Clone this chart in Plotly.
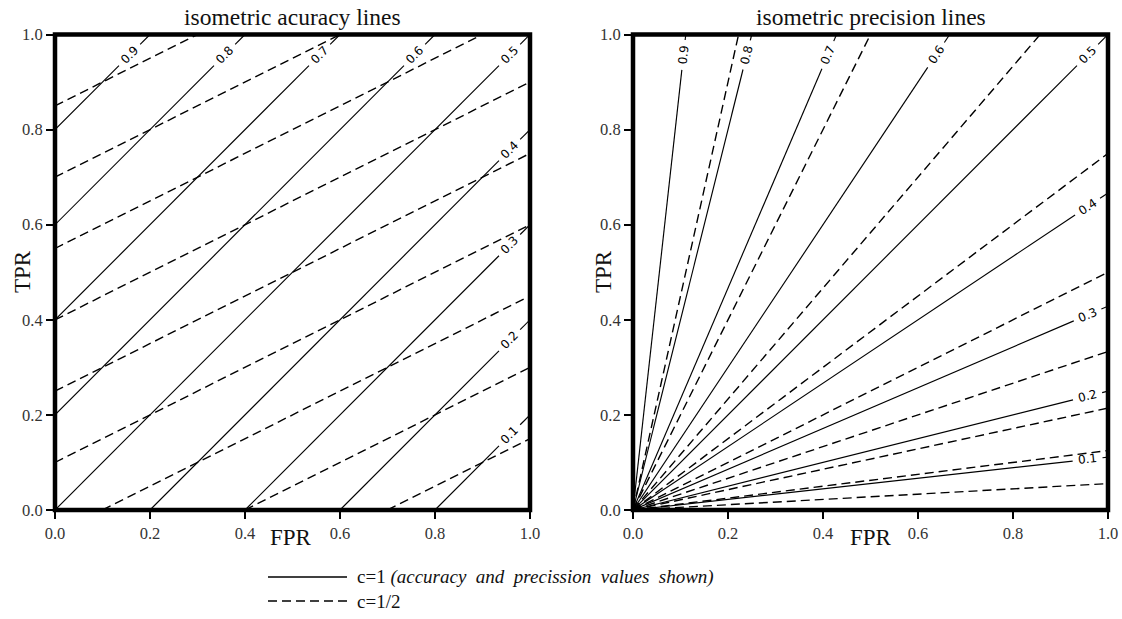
import numpy as np
import plotly.graph_objects as go

# Iso-lines drawn in ROC space (FPR on x, TPR on y)
ACC_LEVELS = [0.1, 0.2, 0.3, 0.4, 0.5, 0.6, 0.7, 0.8, 0.9]
PREC_LEVELS = [0.1, 0.2, 0.3, 0.4, 0.5, 0.6, 0.7, 0.8, 0.9]
CLASS_RATIOS = [1.0, 0.5]          # c = negatives / positives
LABELLED_RATIO = 1.0               # only the c=1 lines carry value labels
TICKS = [0.0, 0.2, 0.4, 0.6, 0.8, 1.0]
TICK_TEXT = ["0.0", "0.2", "0.4", "0.6", "0.8", "1.0"]

W, H = 1122, 619
SERIF = "Liberation Serif"
PLOT_PX = 475.0                    # side of each square plot in pixels
LABEL_POS = 0.957                  # where a label sits along the exit axis
HALF_GAP = 15.0 / PLOT_PX          # half of the break around a label


def px(x):
    """pixel column -> paper fraction"""
    return x / W


def py(y):
    """pixel row -> paper fraction"""
    return 1 - y / H


def acc_line(a, c):
    # accuracy = (TPR + c (1 - FPR)) / (1 + c)
    return c, (1 + c) * a - c


def prec_line(p, c):
    # precision = TPR / (TPR + c FPR)
    return c * p / (1 - p), 0.0


def clip_unit(m, b):
    x0, y0 = (0.0, b) if b >= 0 else (-b / m, 0.0)
    if m + b <= 1:
        x1, y1 = 1.0, m + b
    else:
        x1, y1 = (1 - b) / m, 1.0
    return (x0, y0), (x1, y1)


def line_geometry(m, b, labelled):
    (x0, y0), (x1, y1) = clip_unit(m, b)
    if not labelled:
        return [x0, x1], [y0, y1], None
    if y1 >= 1.0 - 1e-9 and x1 < 1.0 - 1e-9:
        ly = LABEL_POS
        lx = (ly - b) / m
    else:
        lx = LABEL_POS
        ly = m * lx + b
    n = np.hypot(1.0, m)
    ux, uy = 1.0 / n, m / n
    xs = [x0, lx - HALF_GAP * ux]
    ys = [y0, ly - HALF_GAP * uy]
    ex, ey = lx + HALF_GAP * ux, ly + HALF_GAP * uy
    if ex < x1 and ey < y1:
        xs += [None, ex, x1]
        ys += [None, ey, y1]
    return xs, ys, (lx, ly, np.degrees(np.arctan(m)))


fig = go.Figure()
annotations = []

panels = [
    ("x", "y", ACC_LEVELS, acc_line),
    ("x2", "y2", PREC_LEVELS, prec_line),
]

for xa, ya, levels, fn in panels:
    for c in CLASS_RATIOS:
        labelled = c == LABELLED_RATIO
        for lev in levels:
            m, b = fn(lev, c)
            xs, ys, lab = line_geometry(m, b, labelled)
            fig.add_trace(go.Scatter(
                x=xs, y=ys, xaxis=xa, yaxis=ya, mode="lines",
                line=dict(color="black",
                          width=1.15 if labelled else 1.4,
                          dash="solid" if labelled else "9px,5px"),
                hoverinfo="skip", showlegend=False,
            ))
            if lab is not None:
                lx, ly, ang = lab
                annotations.append(dict(
                    x=lx, y=ly, xref=xa, yref=ya, text=f"{lev:.1f}",
                    showarrow=False, textangle=-ang,
                    xanchor="center", yanchor="middle",
                    font=dict(family="DejaVu Sans", size=12, color="black"),
                ))

X1_DOM = [px(55), px(530)]
X2_DOM = [px(633), px(1108)]
Y_DOM = [py(510), py(34.5)]

axis_common = dict(
    range=[0, 1], showgrid=False, zeroline=False, showline=False,
    ticks="outside", ticklen=8, tickwidth=1.6, tickcolor="black",
    tickvals=TICKS, ticktext=TICK_TEXT,
    tickfont=dict(family=SERIF, size=16.5, color="#333"),
    fixedrange=True,
)

fig.update_layout(
    width=W, height=H, autosize=False,
    margin=dict(l=0, r=0, t=0, b=0, autoexpand=False),
    paper_bgcolor="white", plot_bgcolor="white",
    xaxis=dict(domain=X1_DOM, anchor="y", **axis_common),
    yaxis=dict(domain=Y_DOM, anchor="x", **axis_common),
    xaxis2=dict(domain=X2_DOM, anchor="y2", **axis_common),
    yaxis2=dict(domain=Y_DOM, anchor="x2", **axis_common),
)

# thick frames around both plots
shapes = []
for xa, ya in (("x", "y"), ("x2", "y2")):
    shapes.append(dict(type="rect", xref=f"{xa} domain", yref=f"{ya} domain",
                       x0=0, x1=1, y0=0, y1=1, layer="above",
                       line=dict(color="black", width=4.5)))

# titles and axis labels
for cx, title in ((292.5, "isometric acuracy lines"),
                  (870.5, "isometric precision lines")):
    annotations.append(dict(x=px(cx), y=py(17), xref="paper", yref="paper",
                            text=title, showarrow=False,
                            xanchor="center", yanchor="middle",
                            font=dict(family=SERIF, size=23.5, color="#111")))
for cx in (291, 871):
    annotations.append(dict(x=px(cx), y=py(537), xref="paper", yref="paper",
                            text="FPR", showarrow=False,
                            xanchor="center", yanchor="middle",
                            font=dict(family=SERIF, size=23, color="#111")))
for cx in (22, 603):
    annotations.append(dict(x=px(cx), y=py(272), xref="paper", yref="paper",
                            text="TPR", showarrow=False, textangle=-90,
                            xanchor="center", yanchor="middle",
                            font=dict(family=SERIF, size=23, color="#111")))

# legend
legend_rows = [
    (577, "solid", "c=1 <i>(accuracy  and  precission  values  shown)</i>"),
    (601, "9px,5px", "c=1/2"),
]
for ly, dash, text in legend_rows:
    shapes.append(dict(type="line", xref="paper", yref="paper",
                       x0=px(268), x1=px(347), y0=py(ly), y1=py(ly),
                       line=dict(color="black", width=1.4, dash=dash)))
    annotations.append(dict(x=px(355), y=py(ly), xref="paper", yref="paper",
                            text=text.replace("  ", " \u00a0"),
                            showarrow=False, xanchor="left", yanchor="middle",
                            font=dict(family=SERIF, size=19, color="#111")))

fig.update_layout(shapes=shapes, annotations=annotations)

fig.write_html("out.html", config={"displayModeBar": False, "responsive": False})
